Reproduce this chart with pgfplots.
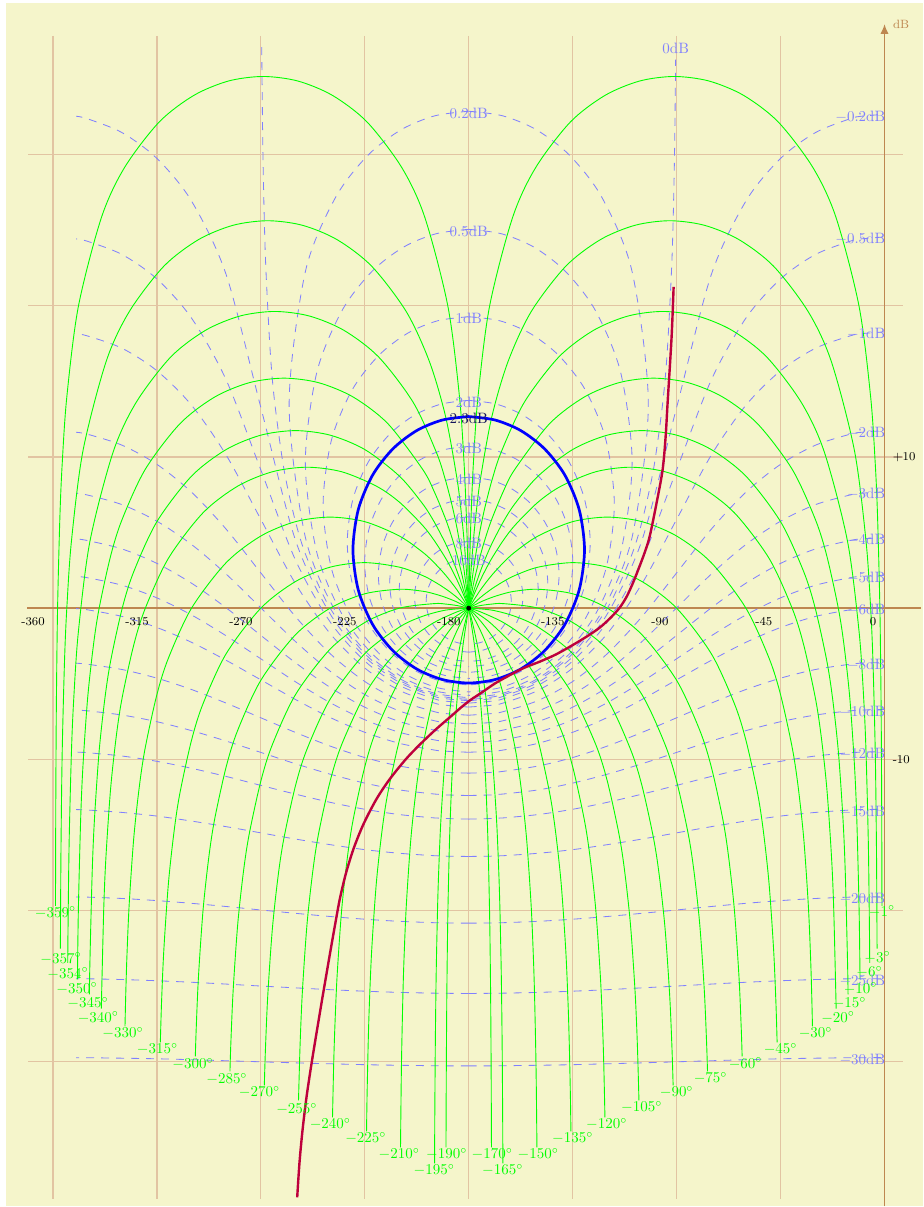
\documentclass[border=0pt]{standalone}
\usepackage{pgfplots}
\usepackage{pgfplotstable}
\pgfplotsset{compat=1.18}
\usetikzlibrary{arrows.meta}
\definecolor{bgc}{RGB}{245,245,203}
\definecolor{gridc}{RGB}{226,196,162}
\definecolor{axc}{RGB}{190,135,80}
\definecolor{mcol}{RGB}{128,128,255}
\definecolor{gcol}{RGB}{0,255,0}
\definecolor{rcol}{RGB}{190,0,60}
\definecolor{lbl}{RGB}{20,20,90}
\pgfplotsset{
 nbase/.style={at={(0,0)},anchor=south west,scale only axis,width=616pt,height=804.67pt,hide axis,clip=false,ymin=-39.557,ymax=40.218},
 ax1/.style={nbase,xmin=-382.93,xmax=16.875},
 ax2/.style={nbase,x dir=reverse,xmin=-376.875,xmax=22.93},
 mc/.style={color=mcol,line width=0.55pt,dash pattern=on 5.3pt off 4.7pt,smooth},
 gc/.style={color=gcol,line width=0.6pt,smooth},
}
% constant closed-loop phase contours (right half; mirrored for the left half)
\pgfplotstableread[row sep=\\]{p d\\ -1.10 -19.69\\ -1.2 -13.98\\ -1.3 -10.46\\ -1.5 -6.02\\ -2 0\\ -3 6.02\\ -4 9.54\\ -6 13.97\\ -11 19.95\\ -21 25.84\\ -31 29.14\\ -46 32.15\\ -61 33.91\\ -76 34.86\\ -91 35.16\\ -106 34.86\\ -121 33.91\\ -136 32.15\\ -151 29.14\\ -161 25.84\\ -171 19.95\\ -176 13.97\\ -178 9.54\\ -179 6.02\\ -179.5 3.52\\ -180 0\\}\gAa
\pgfplotstableread[row sep=\\]{p d\\ -3.22 -22.51\\ -3.3 -20.00\\ -3.5 -15.56\\ -4 -9.54\\ -5 -3.52\\ -6 0\\ -8 4.43\\ -13 10.41\\ -23 16.30\\ -33 19.60\\ -48 22.61\\ -63 24.37\\ -78 25.32\\ -93 25.62\\ -108 25.32\\ -123 24.37\\ -138 22.61\\ -153 19.60\\ -163 16.30\\ -170 12.66\\ -175 8.49\\ -177 6.00\\ -178 4.43\\ -179 2.49\\ -180 0\\}\gAb
\pgfplotstableread[row sep=\\]{p d\\ -6.40 -23.46\\ -6.5 -21.56\\ -7 -15.54\\ -8 -9.52\\ -9 -6.00\\ -11 -1.57\\ -16 4.41\\ -26 10.30\\ -36 13.60\\ -51 16.61\\ -66 18.37\\ -81 19.32\\ -96 19.62\\ -111 19.32\\ -126 18.37\\ -141 16.61\\ -156 13.60\\ -166 10.30\\ -170 8.43\\ -173 6.66\\ -175 5.23\\ -177 3.51\\ -178 2.49\\ -179 1.34\\ -180 0\\}\gAc
\pgfplotstableread[row sep=\\]{p d\\ -10.59 -24.55\\ -11 -19.95\\ -12 -13.93\\ -13 -10.41\\ -15 -5.98\\ -17.5 -2.48\\ -20 0\\ -25 3.47\\ -30 5.89\\ -40 9.19\\ -55 12.20\\ -70 13.96\\ -85 14.91\\ -100 15.21\\ -115 14.91\\ -130 13.96\\ -145 12.20\\ -160 9.19\\ -165 7.73\\ -170 5.89\\ -173 4.53\\ -175 3.47\\ -177 2.25\\ -178 1.57\\ -179 0.82\\ -180 0\\}\gAd
\pgfplotstableread[row sep=\\]{p d\\ -15.78 -25.54\\ -16 -23.42\\ -17 -17.40\\ -18 -13.88\\ -20 -9.45\\ -22.5 -5.95\\ -25 -3.47\\ -30 0\\ -35 2.42\\ -45 5.72\\ -60 8.73\\ -75 10.49\\ -90 11.44\\ -105 11.74\\ -120 11.44\\ -135 10.49\\ -150 8.73\\ -160 6.91\\ -165 5.72\\ -170 4.26\\ -173 3.21\\ -175 2.42\\ -177 1.54\\ -179 0.55\\ -180 0\\}\gAe
\pgfplotstableread[row sep=\\]{p d\\ -20.93 -26.48\\ -22 -19.82\\ -23 -16.30\\ -25 -11.87\\ -27.5 -8.37\\ -30 -5.89\\ -35 -2.42\\ -40 0\\ -50 3.30\\ -65 6.31\\ -80 8.07\\ -95 9.02\\ -110 9.32\\ -125 9.02\\ -140 8.07\\ -150 7.01\\ -160 5.48\\ -165 4.49\\ -170 3.30\\ -173 2.46\\ -175 1.84\\ -177 1.16\\ -179 0.41\\ -180 0\\}\gAf
\pgfplotstableread[row sep=\\]{p d\\ -31.19 -27.66\\ -31.5 -25.62\\ -32 -23.12\\ -33 -19.60\\ -35 -15.17\\ -37.5 -11.67\\ -40 -9.19\\ -45 -5.72\\ -50 -3.30\\ -60 0\\ -75 3.01\\ -90 4.77\\ -105 5.72\\ -120 6.02\\ -135 5.72\\ -150 4.77\\ -160 3.71\\ -165 3.01\\ -170 2.18\\ -175 1.19\\ -180 0\\}\gAg
\pgfplotstableread[row sep=\\]{p d\\ -46.49 -28.72\\ -47 -26.13\\ -48 -22.61\\ -50 -18.18\\ -52.5 -14.68\\ -55 -12.20\\ -60 -8.73\\ -65 -6.31\\ -75 -3.01\\ -90 0\\ -105 1.76\\ -120 2.71\\ -135 3.01\\ -150 2.71\\ -160 2.16\\ -165 1.76\\ -170 1.28\\ -175 0.70\\ -180 0\\}\gAh
\pgfplotstableread[row sep=\\]{p d\\ -61.64 -29.64\\ -62 -27.89\\ -63 -24.37\\ -65 -19.94\\ -67.5 -16.44\\ -70 -13.96\\ -75 -10.49\\ -80 -8.07\\ -90 -4.77\\ -105 -1.76\\ -120 0\\ -135 0.95\\ -150 1.25\\ -160 1.12\\ -165 0.95\\ -170 0.71\\ -175 0.40\\ -180 0\\}\gAi
\pgfplotstableread[row sep=\\]{p d\\ -76.63 -30.63\\ -77 -28.84\\ -78 -25.32\\ -80 -20.89\\ -82.5 -17.39\\ -85 -14.91\\ -90 -11.44\\ -95 -9.02\\ -105 -5.72\\ -120 -2.71\\ -135 -0.95\\ -150 0\\ -165 0.30\\ -170 0.27\\ -175 0.17\\ -180 0\\}\gAj
\pgfplotstableread[row sep=\\]{p d\\ -91.51 -31.56\\ -92 -29.14\\ -93 -25.62\\ -95 -21.19\\ -97.5 -17.69\\ -100 -15.21\\ -105 -11.74\\ -110 -9.32\\ -120 -6.02\\ -135 -3.01\\ -150 -1.25\\ -160 -0.54\\ -170 -0.13\\ -180 0\\}\gAk
\pgfplotstableread[row sep=\\]{p d\\ -106.31 -32.55\\ -107 -28.84\\ -108 -25.32\\ -110 -20.89\\ -112.5 -17.39\\ -115 -14.91\\ -120 -11.44\\ -125 -9.02\\ -135 -5.72\\ -145 -3.54\\ -155 -2.01\\ -165 -0.95\\ -175 -0.24\\ -180 0\\}\gAl
\pgfplotstableread[row sep=\\]{p d\\ -121.03 -33.67\\ -121.5 -30.39\\ -122 -27.89\\ -123 -24.37\\ -125 -19.94\\ -127.5 -16.44\\ -130 -13.96\\ -135 -10.49\\ -140 -8.07\\ -150 -4.77\\ -160 -2.59\\ -170 -1.06\\ -175 -0.48\\ -180 0\\}\gAm
\pgfplotstableread[row sep=\\]{p d\\ -135.76 -34.60\\ -136 -32.15\\ -136.5 -28.63\\ -137 -26.13\\ -138 -22.61\\ -140 -18.18\\ -142.5 -14.68\\ -145 -12.20\\ -150 -8.73\\ -155 -6.31\\ -160 -4.47\\ -165 -3.01\\ -170 -1.82\\ -175 -0.83\\ -180 0\\}\gAn
\pgfplotstableread[row sep=\\]{p d\\ -150.47 -35.66\\ -150.75 -31.64\\ -151 -29.14\\ -151.5 -25.62\\ -152 -23.12\\ -153 -19.60\\ -155 -15.17\\ -157.5 -11.67\\ -160 -9.19\\ -165 -5.72\\ -170 -3.30\\ -175 -1.46\\ -180 0\\}\gAo
\pgfplotstableread[row sep=\\]{p d\\ -165.22 -36.71\\ -165.3 -33.88\\ -165.5 -29.44\\ -165.75 -25.92\\ -166 -23.42\\ -166.5 -19.90\\ -167 -17.40\\ -168 -13.88\\ -170 -9.45\\ -172.5 -5.95\\ -175 -3.47\\ -177.5 -1.55\\ -180 0\\}\gAp
\pgfplotstableread[row sep=\\]{p d\\ -170.16 -35.66\\ -170.2 -33.93\\ -170.3 -30.41\\ -170.5 -25.97\\ -170.75 -22.45\\ -171 -19.95\\ -171.5 -16.43\\ -172 -13.93\\ -173 -10.41\\ -175 -5.98\\ -177.5 -2.48\\ -180 0\\}\gAq
% constant closed-loop magnitude contours, M < 0 dB (right half)
\pgfplotstableread[row sep=\\]{p d\\ -180 -6.12\\ -170 -5.99\\ -165 -5.83\\ -150 -4.91\\ -135 -3.21\\ -120 -0.38\\ -105 4.49\\ -90 13.27\\ -75 22.05\\ -60 26.92\\ -45 29.74\\ -30 31.44\\ -15 32.36\\ -10 32.53\\ 0 32.66\\}\mA
\pgfplotstableread[row sep=\\]{p d\\ -180 -6.28\\ -170 -6.15\\ -165 -5.99\\ -150 -5.11\\ -135 -3.50\\ -120 -0.91\\ -105 3.18\\ -90 9.14\\ -75 15.09\\ -60 19.18\\ -45 21.77\\ -30 23.38\\ -15 24.26\\ -10 24.42\\ 0 24.55\\}\mB
\pgfplotstableread[row sep=\\]{p d\\ -180 -6.54\\ -170 -6.42\\ -165 -6.27\\ -150 -5.44\\ -135 -3.96\\ -120 -1.68\\ -105 1.62\\ -90 5.87\\ -75 10.12\\ -60 13.42\\ -45 15.70\\ -30 17.18\\ -15 18.00\\ -10 18.15\\ 0 18.27\\}\mC
\pgfplotstableread[row sep=\\]{p d\\ -180 -7.08\\ -170 -6.97\\ -165 -6.84\\ -150 -6.11\\ -135 -4.85\\ -120 -3.01\\ -105 -0.56\\ -90 2.33\\ -75 5.22\\ -60 7.67\\ -45 9.51\\ -30 10.77\\ -15 11.50\\ -10 11.63\\ 0 11.74\\}\mD
\pgfplotstableread[row sep=\\]{p d\\ -180 -7.65\\ -170 -7.56\\ -165 -7.44\\ -150 -6.80\\ -135 -5.71\\ -120 -4.17\\ -105 -2.21\\ -90 0.02\\ -75 2.25\\ -60 4.21\\ -45 5.75\\ -30 6.84\\ -15 7.48\\ -10 7.60\\ 0 7.69\\}\mE
\pgfplotstableread[row sep=\\]{p d\\ -180 -8.25\\ -170 -8.17\\ -165 -8.06\\ -150 -7.50\\ -135 -6.55\\ -120 -5.24\\ -105 -3.61\\ -90 -1.80\\ -75 0.02\\ -60 1.65\\ -45 2.96\\ -30 3.91\\ -15 4.47\\ -10 4.58\\ 0 4.66\\}\mF
\pgfplotstableread[row sep=\\]{p d\\ -180 -8.88\\ -170 -8.80\\ -165 -8.71\\ -150 -8.21\\ -135 -7.38\\ -120 -6.25\\ -105 -4.87\\ -90 -3.35\\ -75 -1.83\\ -60 -0.45\\ -45 0.68\\ -30 1.51\\ -15 2.01\\ -10 2.10\\ 0 2.18\\}\mG
\pgfplotstableread[row sep=\\]{p d\\ -180 -9.53\\ -170 -9.46\\ -165 -9.38\\ -150 -8.94\\ -135 -8.21\\ -120 -7.23\\ -105 -6.04\\ -90 -4.74\\ -75 -3.45\\ -60 -2.26\\ -45 -1.28\\ -30 -0.55\\ -15 -0.11\\ -10 -0.03\\ 0 0.04\\}\mH
\pgfplotstableread[row sep=\\]{p d\\ -180 -10.91\\ -170 -10.86\\ -165 -10.79\\ -150 -10.44\\ -135 -9.88\\ -120 -9.12\\ -105 -8.22\\ -90 -7.25\\ -75 -6.28\\ -60 -5.38\\ -45 -4.63\\ -30 -4.06\\ -15 -3.71\\ -10 -3.64\\ 0 -3.59\\}\mI
\pgfplotstableread[row sep=\\]{p d\\ -180 -12.39\\ -170 -12.35\\ -165 -12.29\\ -150 -12.02\\ -135 -11.57\\ -120 -10.98\\ -105 -10.29\\ -90 -9.54\\ -75 -8.79\\ -60 -8.10\\ -45 -7.51\\ -30 -7.07\\ -15 -6.79\\ -10 -6.74\\ 0 -6.70\\}\mJ
\pgfplotstableread[row sep=\\]{p d\\ -180 -13.95\\ -170 -13.91\\ -165 -13.87\\ -150 -13.65\\ -135 -13.30\\ -120 -12.84\\ -105 -12.30\\ -90 -11.72\\ -75 -11.13\\ -60 -10.59\\ -45 -10.13\\ -30 -9.78\\ -15 -9.56\\ -10 -9.52\\ 0 -9.49\\}\mK
\pgfplotstableread[row sep=\\]{p d\\ -180 -16.42\\ -170 -16.40\\ -165 -16.37\\ -150 -16.21\\ -135 -15.97\\ -120 -15.64\\ -105 -15.27\\ -90 -14.86\\ -75 -14.45\\ -60 -14.08\\ -45 -13.75\\ -30 -13.51\\ -15 -13.35\\ -10 -13.32\\ 0 -13.30\\}\mL
\pgfplotstableread[row sep=\\]{p d\\ -180 -20.83\\ -170 -20.82\\ -165 -20.80\\ -150 -20.71\\ -135 -20.57\\ -120 -20.39\\ -105 -20.18\\ -90 -19.96\\ -75 -19.73\\ -60 -19.52\\ -45 -19.34\\ -30 -19.20\\ -15 -19.11\\ -10 -19.10\\ 0 -19.09\\}\mM
\pgfplotstableread[row sep=\\]{p d\\ -180 -25.48\\ -170 -25.47\\ -165 -25.46\\ -150 -25.41\\ -135 -25.33\\ -120 -25.23\\ -105 -25.11\\ -90 -24.99\\ -75 -24.86\\ -60 -24.74\\ -45 -24.64\\ -30 -24.56\\ -15 -24.51\\ -10 -24.51\\ 0 -24.50\\}\mN
\pgfplotstableread[row sep=\\]{p d\\ -180 -30.27\\ -170 -30.27\\ -165 -30.26\\ -150 -30.23\\ -135 -30.19\\ -120 -30.13\\ -105 -30.07\\ -90 -30.00\\ -75 -29.93\\ -60 -29.86\\ -45 -29.80\\ -30 -29.76\\ -15 -29.73\\ -10 -29.73\\ 0 -29.72\\}\mO
% constant closed-loop magnitude contours, M > 0 dB (right half of closed loops)
\pgfplotstableread[row sep=\\]{p d\\ -180 32.86\\ -165.35 32.56\\ -150.75 31.64\\ -136.29 29.94\\ -122.19 27.12\\ -109.27 22.25\\ -102.25 13.47\\ -109.27 4.69\\ -122.19 -0.18\\ -136.29 -3.01\\ -150.75 -4.71\\ -165.35 -5.63\\ -180 -5.92\\}\pA
\pgfplotstableread[row sep=\\]{p d\\ -180 25.05\\ -165.86 24.76\\ -151.83 23.88\\ -138.12 22.27\\ -125.15 19.68\\ -114.23 15.59\\ -109.26 9.64\\ -114.23 3.68\\ -125.15 -0.41\\ -138.12 -3.00\\ -151.83 -4.61\\ -165.86 -5.49\\ -180 -5.77\\}\pB
\pgfplotstableread[row sep=\\]{p d\\ -180 19.27\\ -166.67 19.01\\ -153.54 18.18\\ -140.95 16.70\\ -129.48 14.42\\ -120.58 11.12\\ -116.97 6.87\\ -120.58 2.62\\ -129.48 -0.68\\ -140.95 -2.96\\ -153.54 -4.44\\ -166.67 -5.27\\ -180 -5.54\\}\pC
\pgfplotstableread[row sep=\\]{p d\\ -180 13.74\\ -168.14 13.50\\ -156.60 12.77\\ -145.83 11.51\\ -136.54 9.67\\ -129.89 7.22\\ -127.41 4.33\\ -129.89 1.44\\ -136.54 -1.01\\ -145.83 -2.85\\ -156.60 -4.11\\ -168.14 -4.84\\ -180 -5.08\\}\pD
\pgfplotstableread[row sep=\\]{p d\\ -180 10.69\\ -169.44 10.48\\ -159.27 9.84\\ -149.96 8.75\\ -142.19 7.21\\ -136.86 5.25\\ -134.93 3.02\\ -136.86 0.79\\ -142.19 -1.17\\ -149.96 -2.71\\ -159.27 -3.80\\ -169.44 -4.44\\ -180 -4.65\\}\pE
\pgfplotstableread[row sep=\\]{p d\\ -180 8.66\\ -170.60 8.47\\ -161.61 7.91\\ -153.50 6.96\\ -146.88 5.65\\ -142.45 4.02\\ -140.88 2.21\\ -142.45 0.39\\ -146.88 -1.24\\ -153.50 -2.55\\ -161.61 -3.50\\ -170.60 -4.06\\ -180 -4.25\\}\pF
\pgfplotstableread[row sep=\\]{p d\\ -180 7.18\\ -171.63 7.01\\ -163.67 6.51\\ -156.57 5.68\\ -150.86 4.55\\ -147.10 3.17\\ -145.78 1.65\\ -147.10 0.13\\ -150.86 -1.25\\ -156.57 -2.38\\ -163.67 -3.21\\ -171.63 -3.71\\ -180 -3.88\\}\pG
\pgfplotstableread[row sep=\\]{p d\\ -180 6.04\\ -172.55 5.89\\ -165.49 5.45\\ -159.24 4.72\\ -154.28 3.74\\ -151.05 2.55\\ -149.92 1.26\\ -151.05 -0.04\\ -154.28 -1.23\\ -159.24 -2.21\\ -165.49 -2.94\\ -172.55 -3.38\\ -180 -3.53\\}\pH
\pgfplotstableread[row sep=\\]{p d\\ -180 4.41\\ -174.09 4.29\\ -168.52 3.94\\ -163.65 3.38\\ -159.83 2.62\\ -157.39 1.72\\ -156.54 0.75\\ -157.39 -0.22\\ -159.83 -1.12\\ -163.65 -1.88\\ -168.52 -2.44\\ -174.09 -2.79\\ -180 -2.91\\}\pI
\pgfplotstableread[row sep=\\]{p d\\ -180 3.30\\ -175.31 3.21\\ -170.90 2.93\\ -167.08 2.49\\ -164.11 1.90\\ -162.22 1.21\\ -161.57 0.46\\ -162.22 -0.29\\ -164.11 -0.98\\ -167.08 -1.57\\ -170.90 -2.02\\ -175.31 -2.29\\ -180 -2.39\\}\pJ
% open-loop frequency response
\pgfplotstableread[row sep=\\]{p d\\ -91.30 21.25\\ -92.17 17.95\\ -93.90 13.58\\ -94.76 11.33\\ -96.06 9.15\\ -98.66 6.97\\ -101.68 4.73\\ -103.85 3.67\\ -106.44 2.61\\ -109.04 1.62\\ -111.64 0.76\\ -114.66 0.03\\ -118.56 -0.63\\ -123.32 -1.29\\ -128.94 -1.88\\ -135.43 -2.48\\ -142.36 -3.07\\ -149.28 -3.54\\ -155.77 -3.93\\ -162.26 -4.43\\ -168.75 -4.99\\ -174.38 -5.58\\ -179.57 -6.11\\ -183.89 -6.64\\ -187.36 -7.11\\ -194.33 -8.03\\ -201.16 -9.02\\ -207.35 -10.01\\ -214.36 -11.34\\ -220.07 -12.66\\ -225.65 -14.31\\ -229.98 -15.96\\ -233.31 -17.62\\ -235.86 -19.27\\ -237.85 -20.92\\ -239.76 -22.57\\ -241.62 -24.22\\ -243.48 -25.88\\ -245.64 -27.86\\ -247.98 -30.04\\ -250.19 -32.29\\ -251.92 -34.47\\ -253.26 -36.65\\ -254.26 -38.96\\}\resp
\begin{document}
\begin{tikzpicture}
% ---------- axis 1: background, grid, right halves ----------
\begin{axis}[ax1]
\fill[white] (rel axis cs:0,0) rectangle (rel axis cs:1,1);
\fill[bgc] (axis cs:-380.33,40.02) rectangle (axis cs:16.875,-39.557);
\pgfplotsinvokeforeach{-360,-315,-270,-225,-180,-135,-90,-45}{\draw[gridc,line width=0.8pt] (axis cs:#1,37.84) -- (axis cs:#1,-39.09);}
\pgfplotsinvokeforeach{30,20,10,-10,-20,-30}{\draw[gridc,line width=0.8pt] (axis cs:-370.8,#1) -- (axis cs:8.22,#1);}
\draw[axc,line width=0.9pt] (axis cs:-371.2,0) -- (axis cs:16.0,0);
\draw[axc,line width=0.9pt,-{Latex[length=6.5pt,width=5.5pt]}] (axis cs:0,-39.557) -- (axis cs:0,38.62);
\addplot[mc] coordinates {(-269.6,37.10) (-269.5,35.16) (-269,29.14) (-268,23.12) (-266,17.11) (-264,13.60) (-260,9.19) (-255,5.72) (-250,3.30) (-240,0) (-225,-3.01) (-210,-4.77) (-195,-5.72) (-180,-6.02) (-165,-5.72) (-150,-4.77) (-135,-3.01) (-120,0) (-110,3.30) (-105,5.72) (-100,9.19) (-96,13.60) (-94,17.11) (-92,23.12) (-91,29.14) (-90.5,35.16) (-90.44,36.27)};
\addplot[mc] table {\mA}; \addplot[mc] table {\mB}; \addplot[mc] table {\mC};
\addplot[mc] table {\mD}; \addplot[mc] table {\mE}; \addplot[mc] table {\mF};
\addplot[mc] table {\mG}; \addplot[mc] table {\mH}; \addplot[mc] table {\mI};
\addplot[mc] table {\mJ}; \addplot[mc] table {\mK}; \addplot[mc] table {\mL};
\addplot[mc] table {\mM}; \addplot[mc] table {\mN}; \addplot[mc] table {\mO};
\addplot[mc] table {\pA}; \addplot[mc] table {\pB}; \addplot[mc] table {\pC};
\addplot[mc] table {\pD}; \addplot[mc] table {\pE}; \addplot[mc] table {\pF};
\addplot[mc] table {\pG}; \addplot[mc] table {\pH}; \addplot[mc] table {\pI};
\addplot[mc] table {\pJ};
\addplot[gc] table {\gAa}; \addplot[gc] table {\gAb}; \addplot[gc] table {\gAc};
\addplot[gc] table {\gAd}; \addplot[gc] table {\gAe}; \addplot[gc] table {\gAf};
\addplot[gc] table {\gAg}; \addplot[gc] table {\gAh}; \addplot[gc] table {\gAi};
\addplot[gc] table {\gAj}; \addplot[gc] table {\gAk}; \addplot[gc] table {\gAl};
\addplot[gc] table {\gAm}; \addplot[gc] table {\gAn}; \addplot[gc] table {\gAo};
\addplot[gc] table {\gAp}; \addplot[gc] table {\gAq};
\end{axis}
% ---------- axis 2: mirror image about -180 deg (left halves) ----------
\begin{axis}[ax2]
\addplot[mc,restrict x to domain=-181:-9] table {\mA}; \addplot[mc,restrict x to domain=-181:-9] table {\mB};
\addplot[mc,restrict x to domain=-181:-9] table {\mC}; \addplot[mc,restrict x to domain=-181:-9] table {\mD};
\addplot[mc,restrict x to domain=-181:-9] table {\mE}; \addplot[mc,restrict x to domain=-181:-9] table {\mF};
\addplot[mc,restrict x to domain=-181:-9] table {\mG}; \addplot[mc,restrict x to domain=-181:-9] table {\mH};
\addplot[mc,restrict x to domain=-181:-9] table {\mI}; \addplot[mc,restrict x to domain=-181:-9] table {\mJ};
\addplot[mc,restrict x to domain=-181:-9] table {\mK}; \addplot[mc,restrict x to domain=-181:-9] table {\mL};
\addplot[mc,restrict x to domain=-181:-9] table {\mM}; \addplot[mc,restrict x to domain=-181:-9] table {\mN};
\addplot[mc,restrict x to domain=-181:-9] table {\mO};
\addplot[mc] table {\pA}; \addplot[mc] table {\pB}; \addplot[mc] table {\pC};
\addplot[mc] table {\pD}; \addplot[mc] table {\pE}; \addplot[mc] table {\pF};
\addplot[mc] table {\pG}; \addplot[mc] table {\pH}; \addplot[mc] table {\pI};
\addplot[mc] table {\pJ};
\addplot[gc] table {\gAa}; \addplot[gc] table {\gAb}; \addplot[gc] table {\gAc};
\addplot[gc] table {\gAd}; \addplot[gc] table {\gAe}; \addplot[gc] table {\gAf};
\addplot[gc] table {\gAg}; \addplot[gc] table {\gAh}; \addplot[gc] table {\gAi};
\addplot[gc] table {\gAj}; \addplot[gc] table {\gAk}; \addplot[gc] table {\gAl};
\addplot[gc] table {\gAm}; \addplot[gc] table {\gAn}; \addplot[gc] table {\gAo};
\addplot[gc] table {\gAp}; \addplot[gc] table {\gAq};
\end{axis}
% ---------- axis 3: M = 2.3 dB contour, open-loop response, labels ----------
\begin{axis}[ax1]
\addplot[blue,line width=1.8pt,smooth] coordinates {(-180,12.67) (-168.55,12.44) (-157.44,11.74) (-147.14,10.53) (-138.35,8.79) (-132.17,6.51) (-129.88,3.86) (-132.17,1.21) (-138.35,-1.07) (-147.14,-2.81) (-157.44,-4.02) (-168.55,-4.72) (-180,-4.95) (-191.45,-4.72) (-202.56,-4.02) (-212.86,-2.81) (-221.65,-1.07) (-227.83,1.21) (-230.12,3.86) (-227.83,6.51) (-221.65,8.79) (-212.86,10.53) (-202.56,11.74) (-191.45,12.44) (-180,12.67)};
\addplot[rcol,line width=1.6pt,smooth] table {\resp};
\addplot[only marks,mark=*,mark size=1.4pt,black] coordinates {(-180,0)};
% tick labels
\pgfplotsinvokeforeach{-360,-315,-270,-225,-180,-135,-90,-45,0}{\node[anchor=east,font=\footnotesize,inner sep=0pt,xshift=-5.3pt,yshift=-9pt] at (axis cs:#1,0) {#1};}
\node[anchor=west,font=\footnotesize,inner sep=0pt,xshift=5.3pt] at (axis cs:0,10) {+10};
\node[anchor=west,font=\footnotesize,inner sep=0pt,xshift=5.3pt] at (axis cs:0,-10) {-10};
\node[anchor=west,font=\footnotesize,inner sep=0pt,xshift=5.5pt,text=axc] at (axis cs:0,38.62) {dB};
% M labels
\begin{scope}[every node/.style={text=mcol,inner sep=0pt}]
\node[yshift=-1.3pt] at (axis cs:-180,32.86) {0.2dB};
\node[yshift=-1.3pt] at (axis cs:-180,25.05) {0.5dB};
\node[yshift=-1.3pt] at (axis cs:-180,19.27) {1dB};
\node[yshift=-1.3pt] at (axis cs:-180,13.74) {2dB};
\node[yshift=-1.3pt] at (axis cs:-180,10.69) {3dB};
\node[yshift=-1.3pt] at (axis cs:-180,8.66) {4dB};
\node[yshift=-1.3pt] at (axis cs:-180,7.18) {5dB};
\node[yshift=-1.3pt] at (axis cs:-180,6.04) {6dB};
\node[yshift=-1.3pt] at (axis cs:-180,4.41) {8dB};
\node[yshift=-1.3pt] at (axis cs:-180,3.30) {10dB};
\node at (axis cs:-90.4,36.98) {0dB};
\node[anchor=east,yshift=-1.5pt] at (axis cs:0.4,32.66) {$-$0.2dB};
\node[anchor=east,yshift=-1.5pt] at (axis cs:0.4,24.55) {$-$0.5dB};
\node[anchor=east,yshift=-1.5pt] at (axis cs:0.4,18.27) {$-$1dB};
\node[anchor=east,yshift=-1.5pt] at (axis cs:0.4,11.74) {$-$2dB};
\node[anchor=east,yshift=-1.5pt] at (axis cs:0.4,7.69) {$-$3dB};
\node[anchor=east,yshift=-1.5pt] at (axis cs:0.4,4.66) {$-$4dB};
\node[anchor=east,yshift=-1.5pt] at (axis cs:0.4,2.18) {$-$5dB};
\node[anchor=east,yshift=-1.5pt] at (axis cs:0.4,0.04) {$-$6dB};
\node[anchor=east,yshift=-1.5pt] at (axis cs:0.4,-3.59) {$-$8dB};
\node[anchor=east,yshift=-1.5pt] at (axis cs:0.4,-6.70) {$-$10dB};
\node[anchor=east,yshift=-1.5pt] at (axis cs:0.4,-9.49) {$-$12dB};
\node[anchor=east,yshift=-1.5pt] at (axis cs:0.4,-13.30) {$-$15dB};
\node[anchor=east,yshift=-1.5pt] at (axis cs:0.4,-19.09) {$-$20dB};
\node[anchor=east,yshift=-1.5pt] at (axis cs:0.4,-24.50) {$-$25dB};
\node[anchor=east,yshift=-1.5pt] at (axis cs:0.4,-29.72) {$-$30dB};
\end{scope}
\node[text=lbl,inner sep=0pt,yshift=-1pt] at (axis cs:-180,12.67) {2.3dB};
% N labels
\begin{scope}[every node/.style={text=gcol,inner sep=0pt}]
\node at (axis cs:-358.92,-20.13) {$-359^\circ$};
\node at (axis cs:-356.54,-23.17) {$-357^\circ$};
\node at (axis cs:-353.51,-24.16) {$-354^\circ$};
\node at (axis cs:-349.62,-25.15) {$-350^\circ$};
\node at (axis cs:-344.86,-26.14) {$-345^\circ$};
\node at (axis cs:-340.38,-27.07) {$-340^\circ$};
\node at (axis cs:-329.71,-28.12) {$-330^\circ$};
\node at (axis cs:-314.78,-29.18) {$-315^\circ$};
\node at (axis cs:-299.42,-30.17) {$-300^\circ$};
\node at (axis cs:-284.71,-31.16) {$-285^\circ$};
\node at (axis cs:-270.58,-32.02) {$-270^\circ$};
\node at (axis cs:-254.42,-33.15) {$-255^\circ$};
\node at (axis cs:-239.94,-34.14) {$-240^\circ$};
\node at (axis cs:-224.57,-35.06) {$-225^\circ$};
\node at (axis cs:-210.08,-36.12) {$-210^\circ$};
\node at (axis cs:-194.95,-37.18) {$-195^\circ$};
\node at (axis cs:-189.52,-36.12) {$-190^\circ$};
\node at (axis cs:-169.83,-36.12) {$-170^\circ$};
\node at (axis cs:-165.29,-37.18) {$-165^\circ$};
\node at (axis cs:-149.93,-36.12) {$-150^\circ$};
\node at (axis cs:-135.00,-35.06) {$-135^\circ$};
\node at (axis cs:-120.29,-34.14) {$-120^\circ$};
\node at (axis cs:-105.14,-33.01) {$-105^\circ$};
\node at (axis cs:-90.00,-32.02) {$-90^\circ$};
\node at (axis cs:-75.29,-31.10) {$-75^\circ$};
\node at (axis cs:-60.14,-30.11) {$-60^\circ$};
\node at (axis cs:-45.00,-29.18) {$-45^\circ$};
\node at (axis cs:-29.86,-28.12) {$-30^\circ$};
\node at (axis cs:-20.12,-27.07) {$-20^\circ$};
\node at (axis cs:-15.14,-26.14) {$-15^\circ$};
\node at (axis cs:-10.38,-25.15) {$-10^\circ$};
\node at (axis cs:-6.49,-24.09) {$-6^\circ$};
\node at (axis cs:-3.03,-23.10) {$-3^\circ$};
\node at (axis cs:-1.08,-20.06) {$-1^\circ$};
\end{scope}
\end{axis}
\end{tikzpicture}
\end{document}
